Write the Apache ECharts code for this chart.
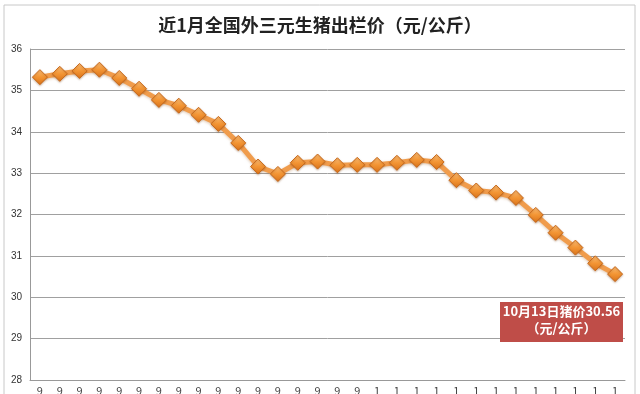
<!DOCTYPE html>
<html><head><meta charset="utf-8">
<script src="https://cdn.jsdelivr.net/npm/echarts@6/dist/echarts.min.js"></script>
<style>html,body{margin:0;padding:0;background:#fff}#c{width:640px;height:394px}</style>
</head><body><div id="c"></div>
<script>
const titleText = '近1月全国外三元生猪出栏价（元/公斤）';
const categories = ['9月14日','9月15日','9月16日','9月17日','9月18日','9月19日','9月20日','9月21日','9月22日','9月23日',
  '9月24日','9月25日','9月26日','9月27日','9月28日','9月29日','9月30日','10月1日','10月2日','10月3日',
  '10月4日','10月5日','10月6日','10月7日','10月8日','10月9日','10月10日','10月11日','10月12日','10月13日'];
const prices = [35.32,35.40,35.47,35.50,35.30,35.04,34.77,34.63,34.41,34.19,
  33.73,33.16,32.98,33.25,33.28,33.19,33.20,33.20,33.25,33.32,
  33.27,32.83,32.58,32.53,32.40,31.99,31.56,31.20,30.82,30.56];
const yTicks = [28,29,30,31,32,33,34,35,36];
const noteLines = ['10月13日猪价30.56','（元/公斤）'];

const chart = echarts.init(document.getElementById('c'), null, {renderer:'canvas'});
chart.setOption({
  animation:false,
  backgroundColor:'#fff',
  title:{text:titleText,left:'center',top:11,
    textStyle:{fontFamily:'Noto Sans CJK SC',fontSize:18,fontWeight:'bold',color:'#222'}},
  grid:{left:30,right:15,top:49,bottom:14,containLabel:false,outerBoundsMode:'none'},
  xAxis:{type:'category',data:categories,boundaryGap:true,
    axisLine:{lineStyle:{color:'#999',width:1}},
    axisTick:{show:false},
    axisLabel:{interval:0,margin:5,fontSize:11,color:'#444',fontFamily:'Noto Sans CJK SC',
      lineHeight:12,verticalAlign:'top',hideOverlap:false,
      formatter:v=>v.split('').join('\n')}},
  yAxis:{type:'value',min:yTicks[0],max:yTicks[yTicks.length-1],interval:1,
    axisLine:{show:true,lineStyle:{color:'#999'}},
    axisTick:{show:false},
    axisLabel:{fontSize:10,color:'#333',margin:8,fontFamily:'Liberation Sans'},
    splitLine:{lineStyle:{color:'#a0a0a0',width:1}}},
  series:[{type:'line',data:prices,
    lineStyle:{color:'#f09c4c',width:5,shadowColor:'rgba(160,90,20,0.35)',shadowBlur:3,shadowOffsetY:1},
    symbol:'diamond',symbolSize:15,
    itemStyle:{color:new echarts.graphic.LinearGradient(0,0,0,1,[
      {offset:0,color:'#fcc07a'},{offset:0.5,color:'#f39534'},{offset:1,color:'#d9731a'}]),
      borderColor:'#c8691c',borderWidth:1,
      shadowColor:'rgba(120,60,10,0.35)',shadowBlur:2,shadowOffsetY:1},
    z:3}],
  graphic:[
    {type:'rect',x:4,y:5,shape:{width:631,height:400},
      style:{fill:'none',stroke:'#c8c8c8',lineWidth:1},silent:true,z:-1},
    {type:'rect',x:500,y:302,shape:{width:123,height:40},style:{fill:'#bf4d48'},z:10},
    {type:'text',x:561.5,y:305,style:{text:noteLines[0],fill:'#fff',font:'bold 13px "Noto Sans CJK SC"',align:'center'},z:11},
    {type:'text',x:561.5,y:322,style:{text:noteLines[1],fill:'#fff',font:'bold 13px "Noto Sans CJK SC"',align:'center'},z:11}
  ]
});
</script></body></html>
